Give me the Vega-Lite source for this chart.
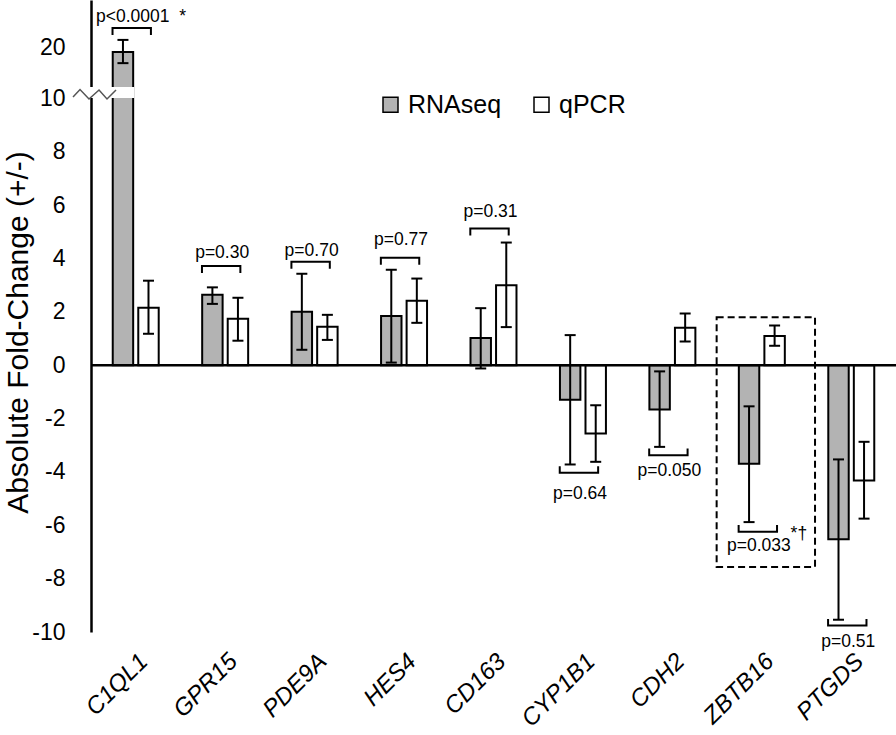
{
  "$schema": "https://vega.github.io/schema/vega-lite/v6.json",
  "width": 805,
  "height": 632,
  "autosize": {"type": "none"},
  "padding": {"left": 91, "top": 0, "right": 0, "bottom": 103},
  "background": "white",
  "config": {
    "view": {"stroke": null},
    "font": "Liberation Sans",
    "legend": {
      "orient": "none",
      "legendX": 287,
      "legendY": 92,
      "direction": "horizontal",
      "padding": 0,
      "symbolType": "square",
      "symbolSize": 225,
      "symbolStrokeColor": "black",
      "symbolStrokeWidth": 1.5,
      "labelFontSize": 25,
      "labelFont": "Liberation Sans",
      "labelColor": "black",
      "labelOffset": 5,
      "columnPadding": 27
    }
  },
  "datasets": {
    "main": [
      {"gene": "C1QL1", "type": "RNAseq", "value": 19.2, "lo": 17.0, "hi": 21.6},
      {"gene": "C1QL1", "type": "qPCR", "value": 2.16, "lo": 1.18, "hi": 3.17},
      {"gene": "GPR15", "type": "RNAseq", "value": 2.64, "lo": 2.30, "hi": 2.92},
      {"gene": "GPR15", "type": "qPCR", "value": 1.74, "lo": 0.92, "hi": 2.53},
      {"gene": "PDE9A", "type": "RNAseq", "value": 2.01, "lo": 0.58, "hi": 3.43},
      {"gene": "PDE9A", "type": "qPCR", "value": 1.44, "lo": 0.95, "hi": 1.89},
      {"gene": "HES4", "type": "RNAseq", "value": 1.85, "lo": 0.10, "hi": 3.58},
      {"gene": "HES4", "type": "qPCR", "value": 2.42, "lo": 1.59, "hi": 3.25},
      {"gene": "CD163", "type": "RNAseq", "value": 1.02, "lo": -0.12, "hi": 2.14},
      {"gene": "CD163", "type": "qPCR", "value": 3.0, "lo": 1.43, "hi": 4.6},
      {"gene": "CYP1B1", "type": "RNAseq", "value": -1.29, "lo": -3.72, "hi": 1.13},
      {"gene": "CYP1B1", "type": "qPCR", "value": -2.56, "lo": -3.62, "hi": -1.50},
      {"gene": "CDH2", "type": "RNAseq", "value": -1.66, "lo": -3.06, "hi": -0.23},
      {"gene": "CDH2", "type": "qPCR", "value": 1.41, "lo": 0.89, "hi": 1.94},
      {"gene": "ZBTB16", "type": "RNAseq", "value": -3.69, "lo": -5.88, "hi": -1.54},
      {"gene": "ZBTB16", "type": "qPCR", "value": 1.10, "lo": 0.73, "hi": 1.49},
      {"gene": "PTGDS", "type": "RNAseq", "value": -6.52, "lo": -9.54, "hi": -3.53},
      {"gene": "PTGDS", "type": "qPCR", "value": -4.32, "lo": -5.75, "hi": -2.87}
    ],
    "ann": [
      {"gene": "C1QL1", "p": "p<0.0001", "bracket": 23.96, "labelY": 25.2, "dir": "up", "sup": "*", "supY": 25.2},
      {"gene": "GPR15", "p": "p=0.30", "bracket": 3.72, "labelY": 4.01, "dir": "up", "sup": "", "supY": 0},
      {"gene": "PDE9A", "p": "p=0.70", "bracket": 3.88, "labelY": 4.09, "dir": "up", "sup": "", "supY": 0},
      {"gene": "HES4", "p": "p=0.77", "bracket": 4.03, "labelY": 4.50, "dir": "up", "sup": "", "supY": 0},
      {"gene": "CD163", "p": "p=0.31", "bracket": 5.13, "labelY": 5.54, "dir": "up", "sup": "", "supY": 0},
      {"gene": "CYP1B1", "p": "p=0.64", "bracket": -4.03, "labelY": -5.03, "dir": "down", "sup": "", "supY": 0},
      {"gene": "CDH2", "p": "p=0.050", "bracket": -3.37, "labelY": -4.16, "dir": "down", "sup": "", "supY": 0},
      {"gene": "ZBTB16", "p": "p=0.033", "bracket": -6.24, "labelY": -6.98, "dir": "down", "sup": "*†", "supY": -6.52},
      {"gene": "PTGDS", "p": "p=0.51", "bracket": -9.76, "labelY": -10.57, "dir": "down", "sup": "", "supY": 0}
    ],
    "box": [{"gene": "ZBTB16", "top": 1.8, "bottom": -7.56}],
    "brk": [{"gene": "C1QL1", "y": 10}],
    "zero": [{"y": 0}]
  },
  "encoding": {
    "x": {
      "field": "gene",
      "type": "nominal",
      "sort": null,
      "scale": {
        "domain": ["C1QL1", "GPR15", "PDE9A", "HES4", "CD163", "CYP1B1", "CDH2", "ZBTB16", "PTGDS"],
        "paddingInner": 0.486,
        "paddingOuter": 0.243
      },
      "axis": {
        "title": null,
        "domain": false,
        "ticks": false,
        "labelAngle": -45,
        "labelAlign": "right",
        "labelBaseline": "top",
        "labelPadding": 17,
        "labelFontSize": 24,
        "labelFontStyle": "italic",
        "labelColor": "black",
        "labelFont": "Liberation Sans"
      }
    }
  },
  "layer": [
    {
      "data": {"name": "box"},
      "mark": {"type": "bar", "width": {"band": 2.14}, "xOffset": 4, "fillOpacity": 0, "stroke": "black", "strokeWidth": 2, "strokeDash": [7, 4]},
      "encoding": {
        "y": {
          "field": "top", "type": "quantitative",
          "scale": {"type": "linear", "domain": [-10, 10, 29.5], "range": [632, 98.5, 0], "zero": false, "nice": false},
          "axis": {
            "values": [-10, -8, -6, -4, -2, 0, 2, 4, 6, 8, 10, 20],
            "labelExpr": "toString(datum.value)",
            "ticks": false,
            "grid": false,
            "domainColor": "black",
            "domainWidth": 2.5,
            "labelFontSize": 23,
            "labelColor": "black",
            "labelPadding": 26,
            "labelFont": "Liberation Sans",
            "labelFlush": false,
            "labelOverlap": false,
            "title": "Absolute Fold-Change (+/-)",
            "titleFont": "Liberation Sans",
            "titleFontSize": 30,
            "titleFontWeight": "normal",
            "titleColor": "black",
            "titleX": -64,
            "titleY": 332,
            "titleAngle": -90,
            "titleAlign": "center",
            "titleBaseline": "alphabetic"
          }
        },
        "y2": {"field": "bottom"}
      }
    },
    {
      "data": {"name": "main"},
      "mark": {"type": "bar", "stroke": "black", "strokeWidth": 2},
      "encoding": {
        "xOffset": {"field": "type", "type": "nominal", "scale": {"domain": ["RNAseq", "qPCR"], "paddingInner": 0.2, "paddingOuter": 0}},
        "y": {"field": "value", "type": "quantitative", "title": "Absolute Fold-Change (+/-)",
          "scale": {"type": "linear", "domain": [-10, 10, 29.5], "range": [632, 98.5, 0], "zero": false, "nice": false}},
        "y2": {"datum": 0},
        "color": {
          "field": "type", "type": "nominal",
          "scale": {"domain": ["RNAseq", "qPCR"], "range": ["#b3b3b3", "#ffffff"]},
          "legend": {"title": null}
        }
      }
    },
    {
      "data": {"name": "brk"},
      "mark": {"type": "point", "shape": "M-1.57,-0.38L-0.05,-0.38L-0.05,-0.02L-1.57,-0.02Z", "size": 3600, "filled": true, "fill": "white", "opacity": 1, "strokeWidth": 0},
      "encoding": {
        "y": {"field": "y", "type": "quantitative", "title": "Absolute Fold-Change (+/-)",
          "scale": {"type": "linear", "domain": [-10, 10, 29.5], "range": [632, 98.5, 0], "zero": false, "nice": false}}
      }
    },
    {
      "data": {"name": "brk"},
      "mark": {"type": "point", "shape": "M-2.09,-0.05L-1.857,-0.3L-1.557,0.017L-1.223,-0.283L-0.957,0.017L-0.657,-0.283", "size": 3600, "filled": false, "stroke": "#555555", "strokeWidth": 1.5, "opacity": 1},
      "encoding": {
        "y": {"field": "y", "type": "quantitative", "title": "Absolute Fold-Change (+/-)",
          "scale": {"type": "linear", "domain": [-10, 10, 29.5], "range": [632, 98.5, 0], "zero": false, "nice": false}}
      }
    },
    {
      "data": {"name": "main"},
      "mark": {"type": "rule", "color": "black", "strokeWidth": 2},
      "encoding": {
        "xOffset": {"field": "type", "type": "nominal", "scale": {"domain": ["RNAseq", "qPCR"], "paddingInner": 0.2, "paddingOuter": 0}},
        "y": {"field": "lo", "type": "quantitative", "title": "Absolute Fold-Change (+/-)",
          "scale": {"type": "linear", "domain": [-10, 10, 29.5], "range": [632, 98.5, 0], "zero": false, "nice": false}},
        "y2": {"field": "hi"}
      }
    },
    {
      "data": {"name": "main"},
      "mark": {"type": "tick", "orient": "horizontal", "color": "black", "size": 11, "thickness": 2, "opacity": 1},
      "encoding": {
        "xOffset": {"field": "type", "type": "nominal", "scale": {"domain": ["RNAseq", "qPCR"], "paddingInner": 0.2, "paddingOuter": 0}},
        "y": {"field": "lo", "type": "quantitative", "title": "Absolute Fold-Change (+/-)",
          "scale": {"type": "linear", "domain": [-10, 10, 29.5], "range": [632, 98.5, 0], "zero": false, "nice": false}}
      }
    },
    {
      "data": {"name": "main"},
      "mark": {"type": "tick", "orient": "horizontal", "color": "black", "size": 11, "thickness": 2, "opacity": 1},
      "encoding": {
        "xOffset": {"field": "type", "type": "nominal", "scale": {"domain": ["RNAseq", "qPCR"], "paddingInner": 0.2, "paddingOuter": 0}},
        "y": {"field": "hi", "type": "quantitative", "title": "Absolute Fold-Change (+/-)",
          "scale": {"type": "linear", "domain": [-10, 10, 29.5], "range": [632, 98.5, 0], "zero": false, "nice": false}}
      }
    },
    {
      "data": {"name": "zero"},
      "mark": {"type": "rule", "color": "black", "strokeWidth": 2.5},
      "encoding": {
        "x": null,
        "y": {"field": "y", "type": "quantitative", "title": "Absolute Fold-Change (+/-)",
          "scale": {"type": "linear", "domain": [-10, 10, 29.5], "range": [632, 98.5, 0], "zero": false, "nice": false}}
      }
    },
    {
      "data": {"name": "ann"},
      "transform": [{"filter": "datum.dir === 'up'"}],
      "mark": {"type": "point", "shape": "M-1.16,0.35L-1.16,0L0.76,0L0.76,0.35", "size": 1600, "filled": false, "stroke": "black", "strokeWidth": 2, "opacity": 1},
      "encoding": {
        "y": {"field": "bracket", "type": "quantitative", "title": "Absolute Fold-Change (+/-)",
          "scale": {"type": "linear", "domain": [-10, 10, 29.5], "range": [632, 98.5, 0], "zero": false, "nice": false}}
      }
    },
    {
      "data": {"name": "ann"},
      "transform": [{"filter": "datum.dir === 'down'"}],
      "mark": {"type": "point", "shape": "M-1.16,-0.33L-1.16,0L0.76,0L0.76,-0.33", "size": 1600, "filled": false, "stroke": "black", "strokeWidth": 2, "opacity": 1},
      "encoding": {
        "y": {"field": "bracket", "type": "quantitative", "title": "Absolute Fold-Change (+/-)",
          "scale": {"type": "linear", "domain": [-10, 10, 29.5], "range": [632, 98.5, 0], "zero": false, "nice": false}}
      }
    },
    {
      "data": {"name": "ann"},
      "mark": {"type": "text", "fontSize": 17.5, "font": "Liberation Sans", "color": "black", "align": "center", "baseline": "alphabetic", "dx": -3},
      "encoding": {
        "y": {"field": "labelY", "type": "quantitative", "title": "Absolute Fold-Change (+/-)",
          "scale": {"type": "linear", "domain": [-10, 10, 29.5], "range": [632, 98.5, 0], "zero": false, "nice": false}},
        "text": {"field": "p"}
      }
    },
    {
      "data": {"name": "ann"},
      "transform": [{"filter": "datum.gene === 'C1QL1'"}],
      "mark": {"type": "text", "fontSize": 17.5, "font": "Liberation Sans", "color": "black", "align": "center", "baseline": "alphabetic", "dx": 47},
      "encoding": {
        "y": {"field": "supY", "type": "quantitative", "title": "Absolute Fold-Change (+/-)",
          "scale": {"type": "linear", "domain": [-10, 10, 29.5], "range": [632, 98.5, 0], "zero": false, "nice": false}},
        "text": {"field": "sup"}
      }
    },
    {
      "data": {"name": "ann"},
      "transform": [{"filter": "datum.gene === 'ZBTB16'"}],
      "mark": {"type": "text", "fontSize": 17.5, "font": "Liberation Sans", "color": "black", "align": "center", "baseline": "alphabetic", "dx": 37},
      "encoding": {
        "y": {"field": "supY", "type": "quantitative", "title": "Absolute Fold-Change (+/-)",
          "scale": {"type": "linear", "domain": [-10, 10, 29.5], "range": [632, 98.5, 0], "zero": false, "nice": false}},
        "text": {"field": "sup"}
      }
    }
  ]
}
